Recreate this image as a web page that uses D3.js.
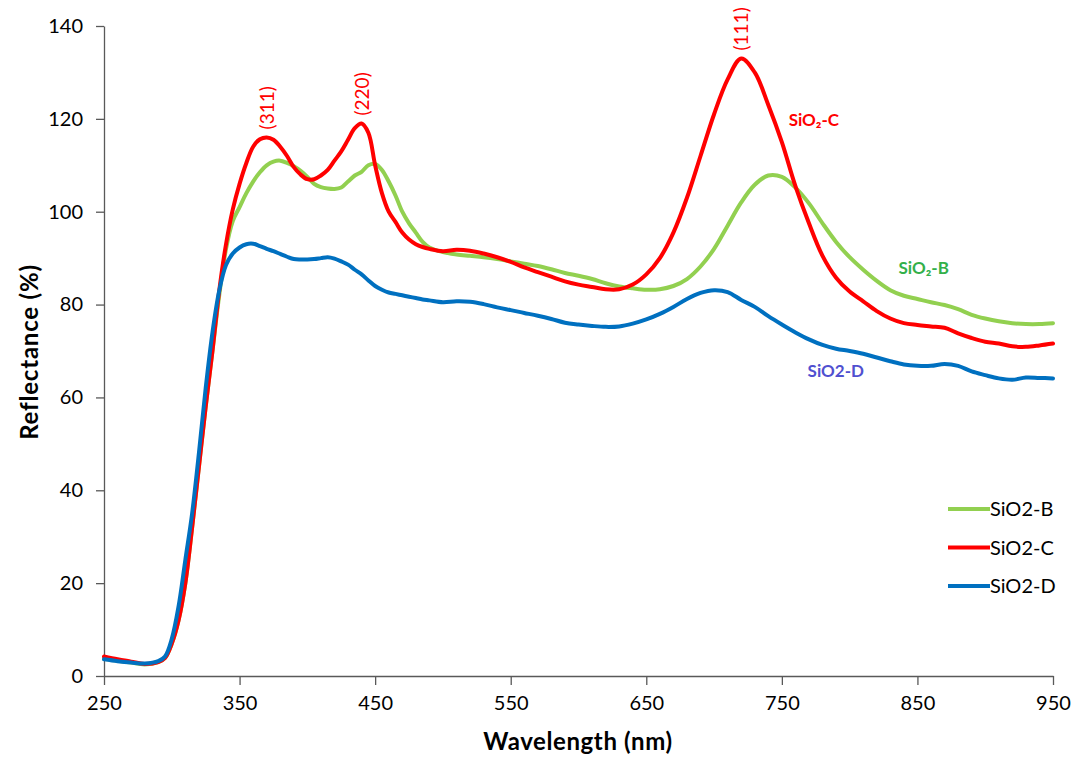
<!DOCTYPE html>
<html>
<head>
<meta charset="utf-8">
<script src="https://cdn.jsdelivr.net/npm/d3@7"></script>
<style>
  html, body { margin: 0; padding: 0; background: #fff; }
  svg { display: block; font-family: Lato, "Open Sans", sans-serif; }
</style>
</head>
<body>
<svg id="chart" width="1087" height="762"></svg>
<script>
// Wavelength grid (nm)
const wavelength = [250,260,270,280,290,295,300,305,310,315,320,325,330,335,340,345,350,355,360,365,370,375,380,385,390,395,400,405,410,415,420,425,430,435,440,445,450,455,460,465,470,475,480,485,490,500,510,520,530,540,550,560,570,580,590,600,610,620,630,640,650,660,670,680,690,700,710,720,730,740,750,760,770,780,790,800,810,820,830,840,850,860,870,880,890,900,910,920,930,940,950];

// Reflectance (%) for each sample
const sio2B = [3.7,3.3,2.9,2.5,3.0,3.9,7,12,20,32,45,58,70,82,92,98,101,104,106.5,108.5,110,110.8,111,110.5,109.8,108.8,107.5,106,105.3,105,104.9,105.2,106.5,107.8,108.6,110,110.3,109,106.5,103.5,100,97.5,95.5,93.5,92.3,91.3,90.8,90.5,90.2,89.8,89.3,88.8,88.3,87.6,86.8,86.2,85.5,84.6,83.9,83.5,83.2,83.3,84,85.5,88.2,92,97,102,105.8,107.8,107.5,105.2,101.8,97.5,93.5,90.2,87.5,85.1,83.1,81.9,81.2,80.5,79.9,79,77.8,77,76.4,76,75.8,75.8,76];
const sio2C = [4.2,3.6,3.1,2.6,3.0,3.9,7,12,20,32,45,58,70,83,93,100.5,106,110.5,114,115.6,116,115.5,114,112,109.6,108,107,107,107.8,109,111,113,115.5,118,119,117,110,104,100,97.8,95.5,94,93,92.4,92,91.5,91.8,91.6,91,90.2,89.2,88,87,86,85,84.3,83.8,83.3,83.3,84.3,86.5,90,95.5,103,112,121,128.5,133,130,123,115,105.5,97.5,90.5,85.8,82.8,80.7,78.6,77,76,75.6,75.3,75,73.8,72.8,72,71.6,71,70.9,71.2,71.6];
const sio2D = [3.6,3.2,2.9,2.7,3.2,4.2,8,15,25,35,48,62,74,83,88.5,91,92.3,93,93.1,92.6,92,91.5,90.9,90.3,89.8,89.7,89.7,89.8,90,90.2,89.9,89.3,88.6,87.5,86.5,85.2,84,83.2,82.6,82.3,82,81.7,81.4,81.1,80.9,80.5,80.7,80.6,80.1,79.4,78.8,78.2,77.6,76.9,76.1,75.7,75.4,75.2,75.3,75.9,76.8,78,79.5,81.2,82.5,83.1,82.7,81,79.5,77.5,75.7,74,72.5,71.3,70.5,70,69.4,68.6,67.8,67.1,66.8,66.8,67.2,66.8,65.6,64.8,64.1,63.8,64.3,64.2,64.1];

const seriesNames = ["SiO2-B", "SiO2-C", "SiO2-D"];
const seriesColors = ["#92D050", "#FF0000", "#0070C0"];

const xTicks = [250,350,450,550,650,750,850,950];
const yTicks = [0,20,40,60,80,100,120,140];

// Diffraction-plane peaks marked on SiO2-C
const peakLabels = ["(311)", "(220)", "(111)"];
const peakWavelengths = [370, 440, 720];
const peakValues = [116, 119, 133];

const svg = d3.select("#chart");
const plot = { left: 104, right: 1053, top: 26, bottom: 676 };

const x = d3.scaleLinear().domain([250, 950]).range([plot.left, plot.right]);
const y = d3.scaleLinear().domain([0, 140]).range([plot.bottom, plot.top]);

// Axes
const xAxis = svg.append("g")
  .attr("transform", `translate(0,${plot.bottom})`)
  .call(d3.axisBottom(x).tickValues(xTicks).tickSize(9).tickPadding(11).tickSizeOuter(0));
const yAxis = svg.append("g")
  .attr("transform", `translate(${plot.left},0)`)
  .call(d3.axisLeft(y).tickValues(yTicks).tickSize(8).tickPadding(13).tickSizeOuter(0));

[xAxis, yAxis].forEach(g => {
  g.select(".domain").attr("stroke", "#595959").attr("stroke-width", 1.3);
  g.selectAll(".tick line").attr("stroke", "#595959").attr("stroke-width", 1.3);
  g.selectAll(".tick text").attr("fill", "#000").style("font-size", "20px").style("font-family", "Lato, sans-serif");
});

// Axis titles
svg.append("text")
  .attr("x", 578)
  .attr("y", 750)
  .attr("text-anchor", "middle")
  .style("font-size", "24px").style("font-weight", "bold").style("letter-spacing", "0.6px")
  .text("Wavelength (nm)");
svg.append("text")
  .attr("transform", `translate(38,352) rotate(-90)`)
  .attr("text-anchor", "middle")
  .style("font-size", "24px").style("font-weight", "bold").style("letter-spacing", "0.8px")
  .text("Reflectance (%)");

// Spectra
const seriesValues = [sio2B, sio2C, sio2D];
const line = d3.line()
  .x(d => x(d[0]))
  .y(d => y(d[1]))
  .curve(d3.curveCatmullRom.alpha(0.5));

seriesValues.forEach((vals, i) => {
  svg.append("path")
    .datum(wavelength.map((w, j) => [w, vals[j]]))
    .attr("fill", "none")
    .attr("stroke", seriesColors[i])
    .attr("stroke-width", 4)
    .attr("stroke-linejoin", "round")
    .attr("stroke-linecap", "round")
    .attr("d", line);
});

// Peak labels (rotated)
peakLabels.forEach((t, i) => {
  const px = x(peakWavelengths[i]) + 7;
  const py = y(peakValues[i]) - 8;
  svg.append("text")
    .attr("transform", `translate(${px},${py}) rotate(-90)`)
    .attr("text-anchor", "start")
    .attr("fill", "#FF0000")
    .style("font-size", "19px")
    .text(t);
});

// Inline series labels
const inline = [
  { name: "SiO₂-C", color: "#FF0000", w: 755, v: 118.5 },
  { name: "SiO₂-B", color: "#33B04A", w: 836, v: 86.5 },
  { name: "SiO2-D", color: "#5050D0", w: 769, v: 64.5 }
];
inline.forEach(d => {
  svg.append("text")
    .attr("x", x(d.w))
    .attr("y", y(d.v))
    .attr("fill", d.color)
    .style("font-size", "17px").style("font-weight", "bold")
    .text(d.name);
});

// Legend
const legend = svg.append("g").attr("transform", "translate(948,509)");
seriesNames.forEach((n, i) => {
  const g = legend.append("g").attr("transform", `translate(0,${i * 38.5})`);
  g.append("line").attr("x1", 0).attr("x2", 42).attr("y1", 0).attr("y2", 0)
    .attr("stroke", seriesColors[i]).attr("stroke-width", 4);
  g.append("text").attr("x", 42).attr("y", 0).attr("dy", "0.35em")
    .style("font-size", "20px").text(n);
});
</script>
</body>
</html>
